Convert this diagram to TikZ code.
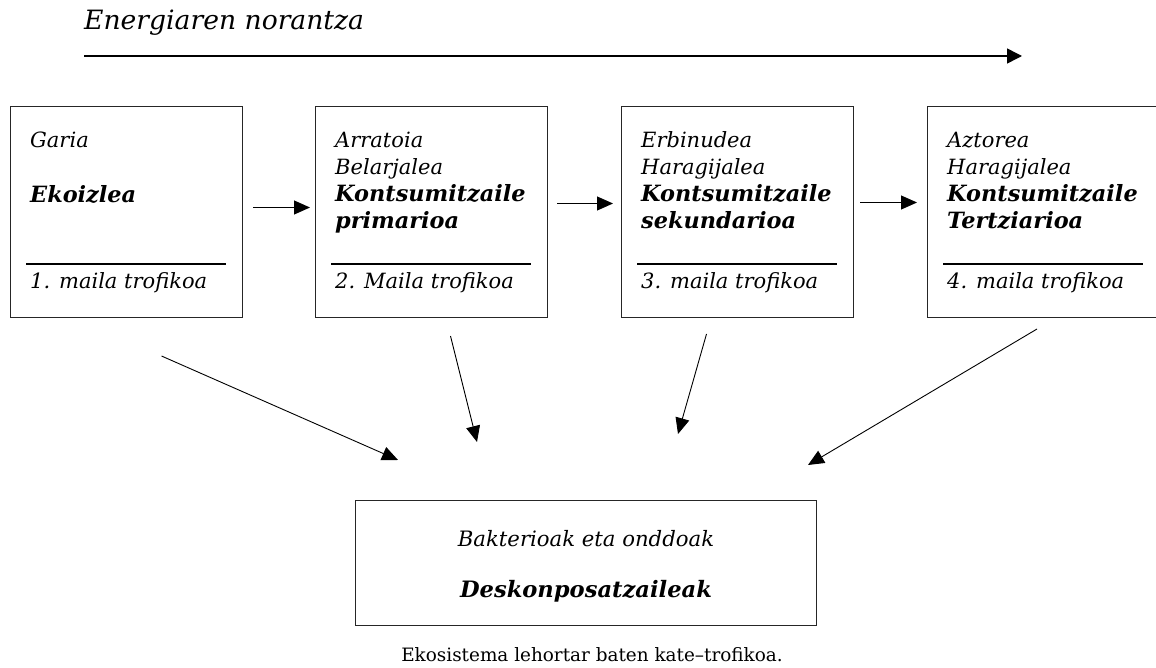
\documentclass[tikz,border=0pt]{standalone}
\usepackage{fontspec}
\setmainfont{DejaVu Serif}
\usetikzlibrary{arrows.meta,calc}

\tikzset{
  stage/.style={draw=black!85, line width=1pt, minimum width=232pt,
    minimum height=211pt, inner sep=0pt, anchor=north west},
  lbl/.style={anchor=base west, inner sep=0pt,
    font=\fontsize{21}{27}\selectfont\itshape},
  lblb/.style={lbl, font=\fontsize{22.4}{27}\selectfont\bfseries\itshape},
  ctr/.style={anchor=base, inner sep=0pt,
    font=\fontsize{21.2}{27}\selectfont\itshape},
  ctrb/.style={ctr, font=\fontsize{22.6}{27}\selectfont\bfseries\itshape},
  rule/.style={line width=1.4pt},
  flow/.style={line width=0.9pt, -{Triangle[length=16pt,width=14pt]}},
  flowtop/.style={line width=1.5pt, -{Triangle[length=15pt,width=15pt]}},
}

\begin{document}
\begin{tikzpicture}[x=1pt,y=-1pt]
  \useasboundingbox (0,0) rectangle (1156,668);

  % direction of the energy flow
  \node[anchor=base west, inner sep=0pt,
        font=\fontsize{26.6}{30}\selectfont\itshape] (title) at (84,30)
        {Energiaren norantza};
  \coordinate (flowend) at (1022,56);
  \draw[flowtop] ($(title.base west)+(0,26)$) -- (flowend);

  % trophic levels (the last one runs past the right margin)
  \node[stage] (b1) at (10,106) {};
  \node[stage] (b2) at (315,106) {};
  \node[stage] (b3) at (621,106) {};
  \node[stage, minimum width=245pt] (b4) at (927,106) {};

  \foreach \b in {b1,b2,b3,b4}
    \draw[rule] ($(\b.south west)+(16,-54)$) -- ($(\b.south west)+(216,-54)$);

  \node[lbl]  (b1a) at ($(b1.north west)+(20,42)$)  {Garia};
  \node[lblb] (b1b) at ($(b1.north west)+(20,97)$)  {Ekoizlea};
  \node[lbl]  (b1c) at ($(b1.north west)+(20,182)$) {1. maila trofikoa};

  \node[lbl]  (b2a) at ($(b2.north west)+(20,42)$)  {Arratoia};
  \node[lbl]  (b2b) at ($(b2.north west)+(20,69)$)  {Belarjalea};
  \node[lblb] (b2c) at ($(b2.north west)+(20,96)$)  {Kontsumitzaile};
  \node[lblb] (b2d) at ($(b2.north west)+(20,123)$) {primarioa};
  \node[lbl]  (b2e) at ($(b2.north west)+(20,182)$) {2. Maila trofikoa};

  \node[lbl]  (b3a) at ($(b3.north west)+(20,42)$)  {Erbinudea};
  \node[lbl]  (b3b) at ($(b3.north west)+(20,69)$)  {Haragijalea};
  \node[lblb] (b3c) at ($(b3.north west)+(20,96)$)  {Kontsumitzaile};
  \node[lblb] (b3d) at ($(b3.north west)+(20,123)$) {sekundarioa};
  \node[lbl]  (b3e) at ($(b3.north west)+(20,182)$) {3. maila trofikoa};

  \node[lbl]  (b4a) at ($(b4.north west)+(20,42)$)  {Aztorea};
  \node[lbl]  (b4b) at ($(b4.north west)+(20,69)$)  {Haragijalea};
  \node[lblb] (b4c) at ($(b4.north west)+(20,96)$)  {Kontsumitzaile};
  \node[lblb] (b4d) at ($(b4.north west)+(20,123)$) {Tertziarioa};
  \node[lbl]  (b4e) at ($(b4.north west)+(20,182)$) {4. maila trofikoa};

  % the chain
  \draw[flow] ($(b1.east)+(10,-4.5)$) -- ($(b2.west)+(-5,-4.5)$);
  \draw[flow] ($(b2.east)+(9,-8.5)$)  -- ($(b3.west)+(-8,-8.5)$);
  \draw[flow] ($(b3.east)+(6,-9.5)$)  -- ($(b4.west)+(-10,-9.5)$);

  % decomposers
  \node[draw=black!85, line width=1pt, minimum width=461pt,
        minimum height=125pt, inner sep=0pt, anchor=north west]
        (dec) at (355,500) {};
  \node[ctr]  (deca) at ($(dec.north)+(0,46)$) {Bakterioak eta onddoak};
  \node[ctrb] (decb) at ($(dec.north)+(0,97)$) {Deskonposatzaileak};

  \draw[flow] ($(b1.south)+(35,38)$)   -- ($(dec.north west)+(43,-40)$);
  \draw[flow] ($(b2.south)+(19,18)$)   -- ($(dec.north west)+(122,-58)$);
  \draw[flow] ($(b3.south)+(-31,16)$)  -- ($(dec.north west)+(323,-66)$);
  \draw[flow] ($(b4.south west)+(110,11)$) -- ($(dec.north east)+(-9,-35)$);

  % caption
  \node[anchor=base, inner sep=0pt, font=\fontsize{18.4}{22}\selectfont]
        (cap) at (592,661) {Ekosistema lehortar baten kate–trofikoa.};
\end{tikzpicture}
\end{document}
